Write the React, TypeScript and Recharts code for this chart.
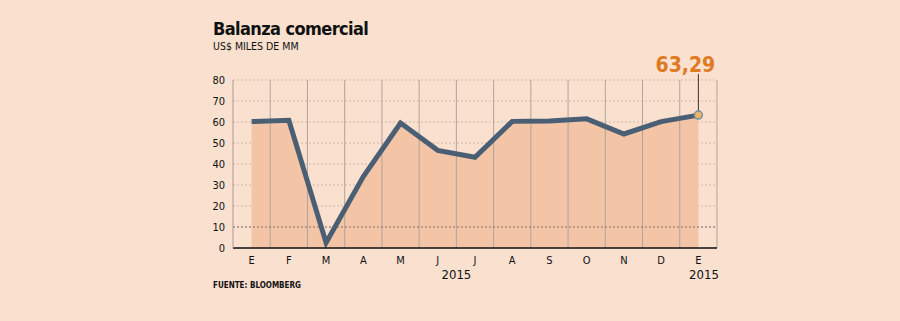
import { ComposedChart, Area, Line, XAxis, YAxis, CartesianGrid, ReferenceLine } from "recharts";

const months = ["E", "F", "M", "A", "M", "J", "J", "A", "S", "O", "N", "D", "E"];
const balance = [60.2, 60.8, 2.5, 34, 59.5, 46.5, 43.2, 60.3, 60.5, 61.5, 54.3, 60.2, 63.29];
const yTicks = [0, 10, 20, 30, 40, 50, 60, 70, 80];
const yearTicks = [5.5, 12.15];
const yearLabel = "2015";
const lastLabel = "63,29";

const data = months.map((m, i) => ({ x: i, month: m, value: balance[i] }));
const boundaries = months.map((_, i) => i + 0.5);

const BG = "#f9e0cf";
const FILL = "#f3c4a6";
const LINE = "#4a5f74";
const ORANGE = "#e07a22";
const font = "'DejaVu Sans Condensed', 'DejaVu Sans', sans-serif";

const LastDot = (props: any) => {
  const { cx, cy, index } = props;
  if (index !== data.length - 1) return <g key={index} />;
  return (
    <g key={index}>
      <line x1={cx} y1={cy - 4} x2={cx} y2={cy - 41} stroke="#333" strokeWidth={1} />
      <circle cx={cx} cy={cy} r={4} fill="#eab566" stroke="#7b8ea3" strokeWidth={1.5} />
      <text x={cx - 13} y={cy - 43} textAnchor="middle" fill={ORANGE} fontSize={21} fontWeight="bold" fontFamily={font}>
        {lastLabel}
      </text>
    </g>
  );
};

export default function App() {
  return (
    <div style={{ position: "fixed", left: 0, top: 0, width: 900, height: 321, background: BG, fontFamily: font }}>
      <div style={{ position: "absolute", left: 213, top: 18, fontSize: 18, fontWeight: "bold", color: "#111", letterSpacing: -0.6 }}>
        Balanza comercial
      </div>
      <div style={{ position: "absolute", left: 213, top: 40, fontSize: 10.5, color: "#111" }}>US$ MILES DE MM</div>
      <div style={{ position: "absolute", left: 213, top: 281, fontSize: 8, fontWeight: "bold", color: "#111" }}>
        FUENTE: BLOOMBERG
      </div>
      <ComposedChart width={900} height={321} data={data} margin={{ top: 80, right: 183, left: 0, bottom: 29 }}>
        <XAxis
          dataKey="x"
          type="number"
          domain={[-0.5, 12.5]}
          ticks={months.map((_, i) => i)}
          interval={0}
          tickFormatter={(v: number) => months[v]}
          tickLine={false}
          axisLine={{ stroke: "#111", strokeWidth: 1.5 }}
          tick={{ fill: "#111", fontSize: 11, fontFamily: font }}
          height={14}
        />
        <XAxis
          xAxisId="year"
          dataKey="x"
          type="number"
          domain={[-0.5, 12.5]}
          ticks={yearTicks}
          interval={0}
          tickFormatter={() => yearLabel}
          tickLine={false}
          axisLine={false}
          tick={{ fill: "#111", fontSize: 13, fontFamily: font }}
          height={30}
        />
        <YAxis
          domain={[0, 80]}
          ticks={yTicks}
          interval={0}
          width={233}
          tickLine={false}
          axisLine={{ stroke: "#a99c94" }}
          tick={{ fill: "#111", fontSize: 11, fontFamily: font }}
        />
        <Area dataKey="value" stroke="none" fill={FILL} fillOpacity={1} isAnimationActive={false} />
        <CartesianGrid vertical={false} stroke="#d3b8a6" strokeDasharray="2 2" />
        {boundaries.map((b) => (
          <ReferenceLine key={b} x={b} stroke="#b1a49b" strokeWidth={1} />
        ))}
        <ReferenceLine y={10} stroke="#7d746e" strokeDasharray="2 2" />
        <Line
          dataKey="value"
          stroke={LINE}
          strokeWidth={5}
          dot={LastDot}
          activeDot={false}
          isAnimationActive={false}
        />
      </ComposedChart>
    </div>
  );
}
